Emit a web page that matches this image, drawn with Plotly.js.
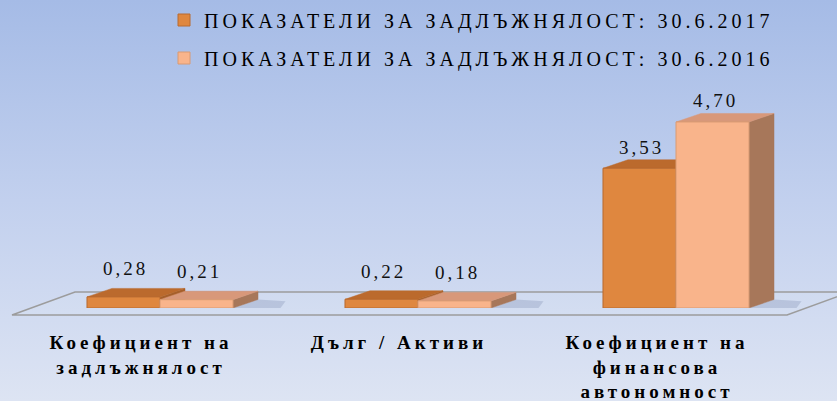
<!DOCTYPE html>
<html><head><meta charset="utf-8">
<script src="https://cdn.plot.ly/plotly-3.0.1.min.js"></script>
<style>
html,body{margin:0;padding:0;}
body{width:837px;height:401px;overflow:hidden;background:linear-gradient(to bottom,#A5BBE6 0%,#C2D0EE 50%,#DDE4F3 100%);}
#chart{width:837px;height:401px;}
g[class*="legend"] text, text.legendtext{letter-spacing:4px;}
.xtick text{letter-spacing:4px;}
text.annotation-text{letter-spacing:3px;}
g[class*="legend"] [clip-path], g[class*="legend"][clip-path]{clip-path:none !important;}
</style></head><body><div id="chart"></div>
<script>
// ---- data ----
const categories = ["Коефициент на<br>задлъжнялост", "Дълг / Активи", "Коефициент на<br>финансова<br>автономност"];
const seriesNames = ["ПОКАЗАТЕЛИ ЗА ЗАДЛЪЖНЯЛОСТ: 30.6.2017", "ПОКАЗАТЕЛИ ЗА ЗАДЛЪЖНЯЛОСТ: 30.6.2016"];
const values2017 = [0.28, 0.22, 3.53];
const values2016 = [0.21, 0.18, 4.70];
const labels2017 = ["0,28", "0,22", "3,53"];
const labels2016 = ["0,21", "0,18", "4,70"];

// ---- styling / geometry ----
const idx = categories.map((_, i) => i);
const ML = 31, MR = 32, MT = 80, MB = 93, W = 837, H = 401;
const PW = W - ML - MR, PH = H - MT - MB;
const XR = [-0.5, 2.5], YR = [0, 5.76];
const BARGAP = 0.434, BW = (1 - BARGAP) / 2;
const DX = 25 * (XR[1] - XR[0]) / PW;   // depth offset (25px right)
const DY = 8.5 * (YR[1] - YR[0]) / PH;  // depth offset (8.5px up)
const SERIF = "Liberation Serif, Times New Roman, serif";

const series = [
  {name: seriesNames[0], vals: values2017, labels: labels2017, front: '#DF873F', top: '#BB6A2D', side: '#A65F2A', line: '#B86A30', off: -1, legend: 'legend'},
  {name: seriesNames[1], vals: values2016, labels: labels2016, front: '#F9B48B', top: '#D8987A', side: '#A7775A', line: '#D99A72', off: 0, legend: 'legend2'}
];

const traces = series.map((s) => ({
  type: 'bar', x: idx, y: s.vals, name: s.name, legend: s.legend,
  marker: {color: s.front, line: {color: s.line, width: 1}},
  hoverinfo: 'skip'
}));

const px = (p) => (p - ML) / PW;
const py = (p) => (MT + PH - p) / PH;
const shapes = [{
  type: 'path', xref: 'paper', yref: 'paper', layer: 'below',
  path: `M${px(12)},${py(315)} L${px(787)},${py(315)} L${px(850)},${py(292)} L${px(75)},${py(292)} Z`,
  line: {color: '#9C9C9C', width: 1.5}, fillcolor: 'rgba(255,255,255,0.06)'
}];
const annotations = [];
series.forEach((s) => {
  s.vals.forEach((v, i) => {
    const x0 = i + s.off * BW, x1 = x0 + BW;
    shapes.push({type: 'path', xref: 'x', yref: 'y', layer: 'below',
      path: `M${x1},0 L${x1 + DX * 1.9},0 L${x1 + DX * 2.1},${DY * 0.8} L${x1 + DX},${DY} Z`,
      line: {width: 0}, fillcolor: 'rgba(90,110,150,0.22)'});
    shapes.push({type: 'path', xref: 'x', yref: 'y', layer: 'below',
      path: `M${x1},0 L${x1 + DX},${DY} L${x1 + DX},${v + DY} L${x1},${v} Z`,
      line: {color: s.side, width: 0.5}, fillcolor: s.side});
    shapes.push({type: 'path', xref: 'x', yref: 'y', layer: 'below',
      path: `M${x0},${v} L${x0 + DX},${v + DY} L${x1 + DX},${v + DY} L${x1},${v} Z`,
      line: {color: s.top, width: 0.5}, fillcolor: s.top});
    annotations.push({x: (x0 + x1) / 2 + DX * 0.1, y: v, xref: 'x', yref: 'y', text: s.labels[i],
      showarrow: false, yanchor: 'middle', yshift: v < 1 ? 28 : 21,
      font: {family: SERIF, size: 19, color: '#111'}});
  });
});

const legendBase = {x: px(164), xanchor: 'left', yanchor: 'middle', bgcolor: 'rgba(0,0,0,0)',
  font: {family: SERIF, size: 20, color: '#000'}};

const layout = {
  width: W, height: H,
  margin: {l: ML, r: MR, t: MT, b: MB, autoexpand: false},
  paper_bgcolor: 'rgba(0,0,0,0)', plot_bgcolor: 'rgba(0,0,0,0)',
  barmode: 'group', bargap: BARGAP, bargroupgap: 0,
  xaxis: {range: XR, tickvals: idx, ticktext: categories, showgrid: false, zeroline: false,
    showline: false, ticks: '', ticklabelshift: -19, ticklabelstandoff: 21, automargin: false,
    tickfont: {family: SERIF, size: 19, color: '#000', weight: 'bold'}},
  yaxis: {range: YR, visible: false, showgrid: false, zeroline: false, automargin: false},
  showlegend: true,
  legend: Object.assign({}, legendBase, {y: py(20)}),
  legend2: Object.assign({}, legendBase, {y: py(58)}),
  shapes: shapes, annotations: annotations
};

Plotly.newPlot('chart', traces, layout, {staticPlot: true});
</script></body></html>
